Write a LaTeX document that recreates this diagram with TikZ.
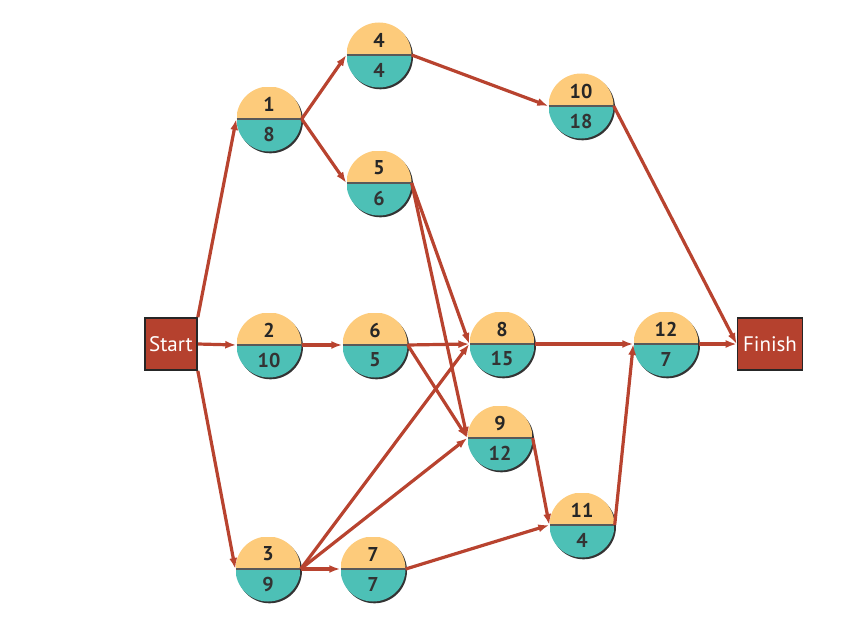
\documentclass[tikz,border=0pt]{standalone}
\usepackage{fontspec}
\setmainfont{PT Sans}
\usetikzlibrary{arrows.meta,shadows}
\definecolor{TaskYellow}{HTML}{FDCB7B}
\definecolor{TaskTeal}{HTML}{4DC0B6}
\definecolor{LinkRed}{HTML}{B8432F}
\definecolor{EndRed}{HTML}{B5412E}
\tikzset{
    task/.style={circle, minimum size = 65pt, inner sep = 0,
                general shadow={fill=black!80, shadow xshift=1.5pt, shadow yshift=-1.8pt},
                path picture={
                    \fill[TaskYellow] (path picture bounding box.north west) rectangle (path picture bounding box.east);
                    \fill[TaskTeal] (path picture bounding box.west) rectangle (path picture bounding box.south east);
                    \draw[line width=1.6pt, black!65] (path picture bounding box.west) -- (path picture bounding box.east);
                }},
    endbox/.style={rectangle, draw=black!85, line width=1.6pt, fill=EndRed,
                minimum height = 52pt, inner sep = 0, text=white,
                font=\fontsize{21}{21}\selectfont},
    topstyle/.style={anchor=center, font=\fontsize{20}{20}\selectfont\bfseries, yshift=15pt},
    bottomstyle/.style={anchor=center, font=\fontsize{20}{20}\selectfont\bfseries, yshift=-15pt},
    link/.style={draw=LinkRed, line width=3.2pt, -{Latex[length=11pt,width=8pt]}},
}
\newcommand{\taskLabels}[3]{%
    \node[topstyle, text=black!85] (#1-num) at (#1.center) {#2};
    \node[bottomstyle, text=black!80] (#1-dur) at (#1.center) {#3};
}

\begin{document}
\begin{tikzpicture}[x=1pt, y=-1pt]
        \useasboundingbox (0,0) rectangle (854,626);
        %
        % Start and finish
        \node[endbox, minimum width = 52pt] (Start) at (171,344) {Start};
        \node[endbox, minimum width = 65pt] (Finish) at (770,344) {Finish};
        %
        % First column
        \node[task] (T1) at (269,119) {};
        \taskLabels{T1}{1}{8}
        \node[task] (T2) at (269,345) {};
        \taskLabels{T2}{2}{10}
        \node[task] (T3) at (268,569) {};
        \taskLabels{T3}{3}{9}
        %
        % Second column
        \node[task] (T4) at (379,55) {};
        \taskLabels{T4}{4}{4}
        \node[task] (T5) at (379,183) {};
        \taskLabels{T5}{5}{6}
        \node[task] (T6) at (375,345) {};
        \taskLabels{T6}{6}{5}
        \node[task] (T7) at (373,569) {};
        \taskLabels{T7}{7}{7}
        %
        % Third column
        \node[task] (T8) at (502,344) {};
        \taskLabels{T8}{8}{15}
        \node[task] (T9) at (500,438) {};
        \taskLabels{T9}{9}{12}
        %
        % Fourth column
        \node[task] (T10) at (581,106) {};
        \taskLabels{T10}{10}{18}
        \node[task] (T11) at (582,525) {};
        \taskLabels{T11}{11}{4}
        \node[task] (T12) at (666,344) {};
        \taskLabels{T12}{12}{7}
        %
        %
        % Links
        \draw[link] (Start.north east) -- (T1.west);
        \draw[link] (Start.east) -- (T2.west);
        \draw[link] (Start.south east) -- (T3.west);
        \draw[link] (T1.east) -- (T4.west);
        \draw[link] (T1.east) -- (T5.west);
        \draw[link] (T2.east) -- (T6.west);
        \draw[link] (T3.east) -- (T7.west);
        \draw[link] (T3.east) -- (T8.west);
        \draw[link] (T3.east) -- (T9.west);
        \draw[link] (T4.east) -- (T10.west);
        \draw[link] (T5.east) -- (T8.west);
        \draw[link] (T5.east) -- (T9.west);
        \draw[link] (T6.east) -- (T8.west);
        \draw[link] (T6.east) -- (T9.west);
        \draw[link] (T7.east) -- (T11.west);
        \draw[link] (T9.east) -- (T11.west);
        \draw[link] (T8.east) -- (T12.west);
        \draw[link] (T11.east) -- (T12.west);
        \draw[link] (T10.east) -- (Finish.west);
        \draw[link] (T12.east) -- (Finish.west);
    \end{tikzpicture}
\end{document}
